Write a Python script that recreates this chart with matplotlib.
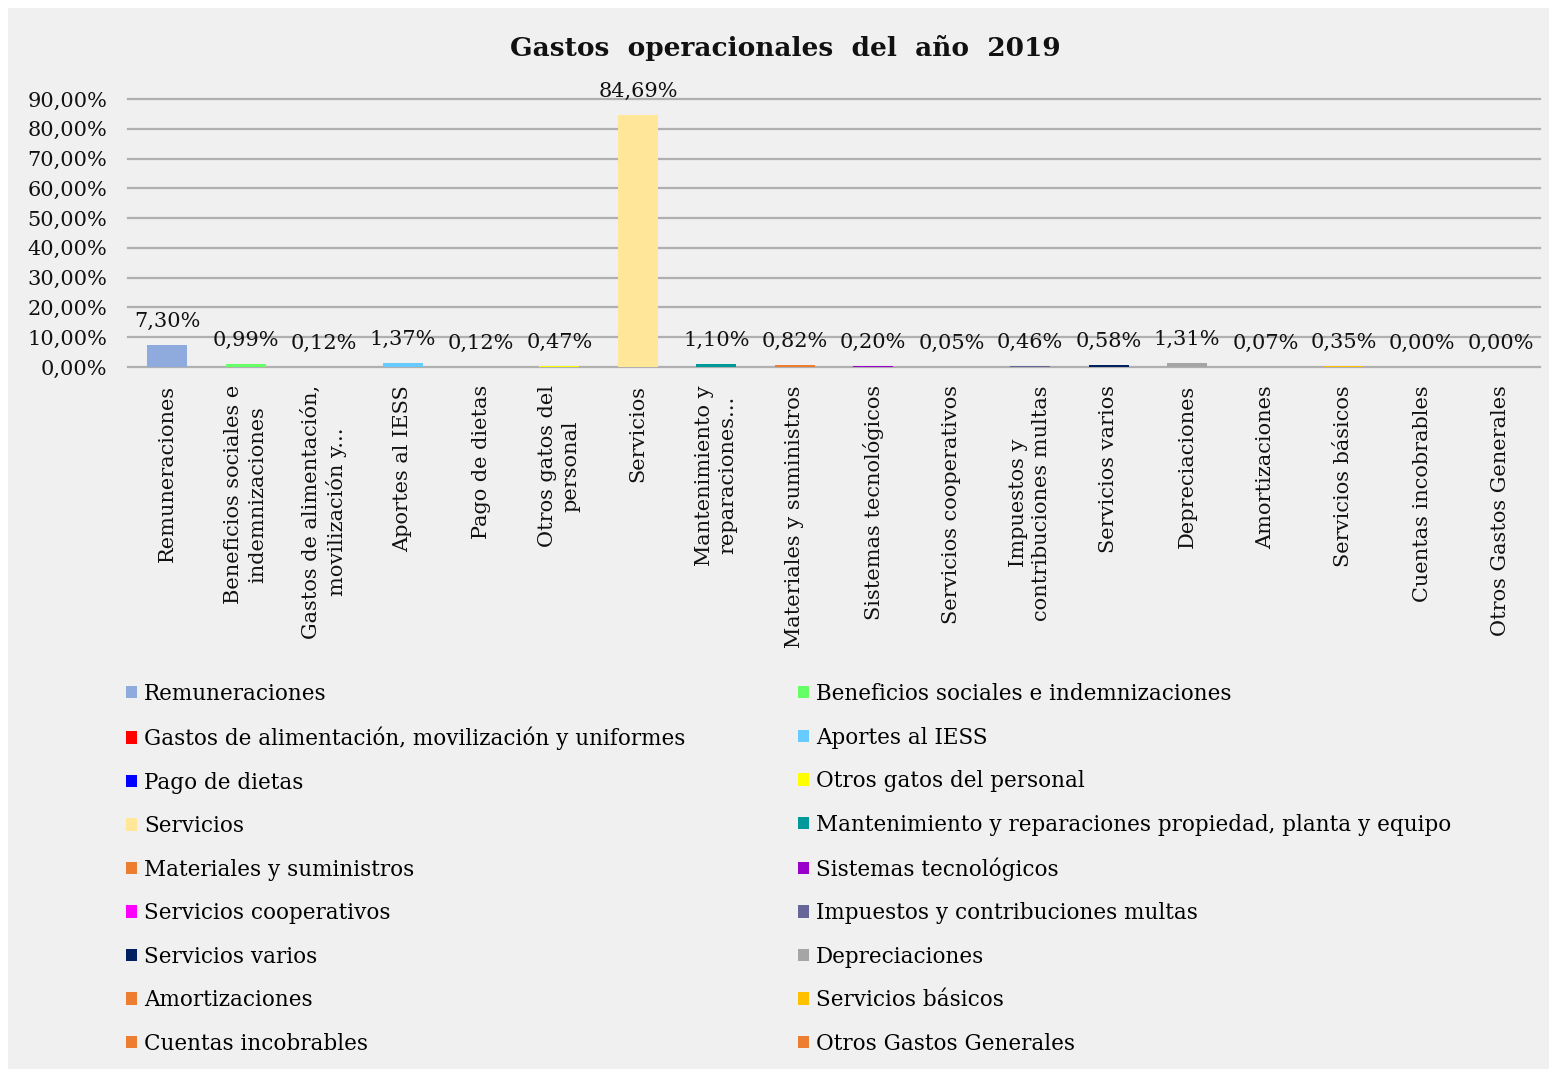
import matplotlib
matplotlib.use('Agg')
import matplotlib.pyplot as plt
from matplotlib.patches import Patch, Rectangle
from matplotlib.ticker import FuncFormatter

# datos (porcentaje del total)
categorias = ['Remuneraciones', 'Beneficios sociales e indemnizaciones',
              'Gastos de alimentación, movilización y uniformes', 'Aportes al IESS',
              'Pago de dietas', 'Otros gatos del personal', 'Servicios',
              'Mantenimiento y reparaciones propiedad, planta y equipo',
              'Materiales y suministros', 'Sistemas tecnológicos',
              'Servicios cooperativos', 'Impuestos y contribuciones multas',
              'Servicios varios', 'Depreciaciones', 'Amortizaciones',
              'Servicios básicos', 'Cuentas incobrables', 'Otros Gastos Generales']
etiquetas_x = ['Remuneraciones', 'Beneficios sociales e\nindemnizaciones',
               'Gastos de alimentación,\nmovilización y...', 'Aportes al IESS',
               'Pago de dietas', 'Otros gatos del\npersonal', 'Servicios',
               'Mantenimiento y\nreparaciones...', 'Materiales y suministros',
               'Sistemas tecnológicos', 'Servicios cooperativos',
               'Impuestos y\ncontribuciones multas', 'Servicios varios',
               'Depreciaciones', 'Amortizaciones', 'Servicios básicos',
               'Cuentas incobrables', 'Otros Gastos Generales']
valores = [7.30, 0.99, 0.12, 1.37, 0.12, 0.47, 84.69, 1.10, 0.82,
           0.20, 0.05, 0.46, 0.58, 1.31, 0.07, 0.35, 0.00, 0.00]
colores = ['#8faadc', '#66ff66', '#ff0000', '#66ccff', '#0000ff', '#ffff00',
           '#ffe699', '#009999', '#ed7d31', '#9900cc', '#ff00ff', '#666699',
           '#002060', '#a5a5a5', '#ed7d31', '#ffc000', '#ed7d31', '#ed7d31']
ticks_y = [0, 10, 20, 30, 40, 50, 60, 70, 80, 90]

FUENTE = 'DejaVu Serif'
plt.rcParams['font.family'] = [FUENTE, 'DejaVu Sans']
W, H = 1549, 1069
fig = plt.figure(figsize=(W / 100, H / 100), dpi=100, facecolor='white')
fondo = '#f0f0f0'
fig.patches.append(Rectangle((8 / W, 0), 1 - 8 / W, 1 - 8 / H,
                             transform=fig.transFigure, facecolor=fondo,
                             edgecolor='none', zorder=-10))

ax = fig.add_axes([128 / W, 1 - 367 / H, (1540 - 128) / W, (367 - 99) / H])
ax.set_facecolor('none')

x = list(range(len(valores)))
barras = ax.bar(x, valores, width=0.51, color=colores, zorder=3)

for xi, v in zip(x, valores):
    ax.annotate(f'{v:.2f}%'.replace('.', ','), (xi, v), xytext=(0, 17),
                textcoords='offset points', ha='center', va='center',
                fontsize=15, color='#111111', annotation_clip=False)

ax.set_ylim(0, 90)
ax.set_xlim(-0.5, len(valores) - 0.5)
ax.set_yticks(ticks_y)
ax.yaxis.set_major_formatter(FuncFormatter(lambda v, p: f'{v:.2f}%'.replace('.', ',')))
ax.grid(axis='y', color='#b0b0b0', linewidth=1.6, zorder=0)
for gl in ax.get_ygridlines():
    gl.set_clip_on(False)
for s in ax.spines.values():
    s.set_visible(False)
ax.tick_params(axis='both', length=0, labelsize=15, colors='#111111')
ax.tick_params(axis='y', pad=15)
ax.tick_params(axis='x', pad=13)
ax.set_xticks(x)
ax.set_xticklabels(etiquetas_x, rotation=90, linespacing=1.3)

fig.text(785 / W, 1 - 48 / H, 'Gastos  operacionales  del  año  2019', ha='center',
         va='center', fontsize=19, fontweight='bold', color='#111111')

# leyenda en dos columnas (fila por fila)
handles = [Patch(facecolor=c, edgecolor='none') for c in colores]
for col, x0 in [(0, 126), (1, 798)]:
    hs = handles[col::2]
    ls = categorias[col::2]
    fig.legend(hs, ls, loc='upper left', bbox_to_anchor=(x0 / W, 1 - 683 / H),
               frameon=False, fontsize=15.5, handlelength=0.5, handleheight=0.5,
               handletextpad=0.35, labelspacing=1.0, borderpad=0,
               borderaxespad=0)

fig.savefig('out.png', dpi=100, facecolor=fig.get_facecolor())
